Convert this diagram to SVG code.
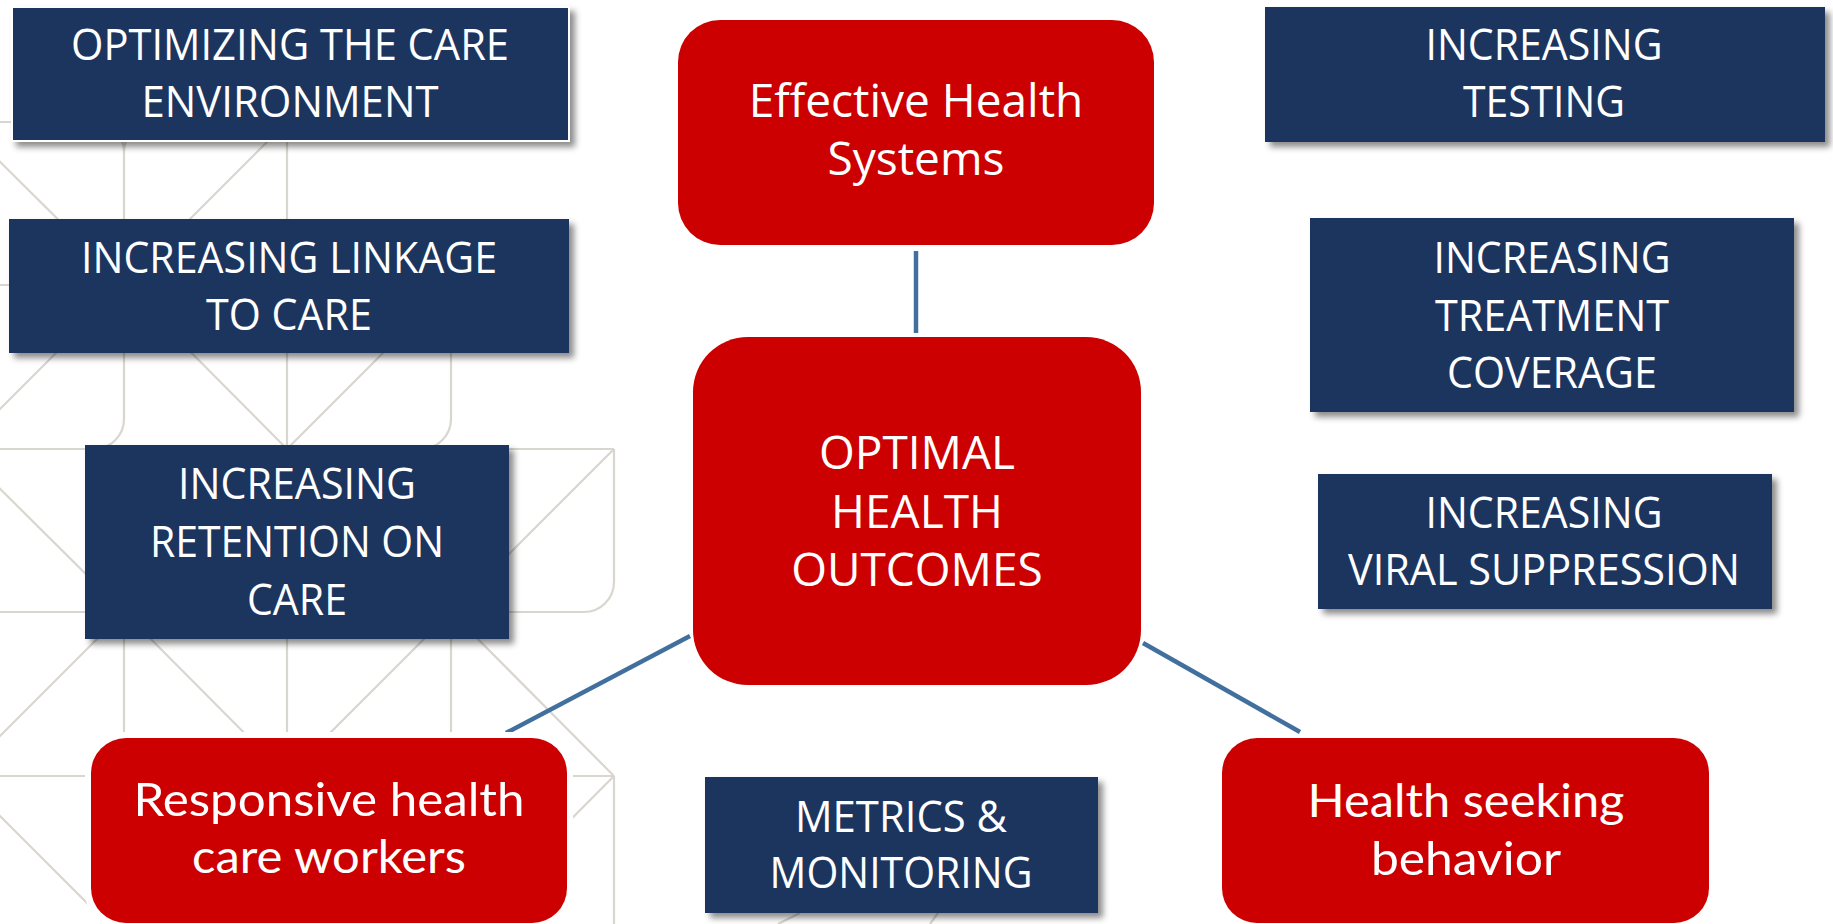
<svg xmlns="http://www.w3.org/2000/svg" width="1833" height="924" viewBox="0 0 1833 924">
<defs>
<filter id="sh" x="-10%" y="-10%" width="125%" height="135%">
<feDropShadow dx="5" dy="5" stdDeviation="3" flood-color="#000" flood-opacity="0.45"/>
</filter>
<style>
.bg{fill:none;stroke:#d9d5cf;stroke-width:2.2}
.blue{fill:#1a365e;filter:url(#sh)}
.red{fill:#cc0000}
.halo{fill:#ffffff}
.bt{font-family:"Open Sans","Liberation Sans",sans-serif;font-size:43px;fill:#ffffff;text-anchor:middle}
.rt{font-family:"Open Sans","Liberation Sans",sans-serif;font-size:46px;fill:#ffffff;text-anchor:middle}
.ct{font-family:Lato,"Open Sans","Liberation Sans",sans-serif;font-size:47px;fill:#ffffff;text-anchor:middle}
.conn{stroke:#41709e;stroke-width:4.5;fill:none}
</style>
</defs>
<rect width="1833" height="924" fill="#ffffff"/>
<g id="background" class="bg">
<path d="M0 122 H94 A30 30 0 0 1 124 152 A30 30 0 0 1 154 122 H287"/>
<path d="M124 152 V419 A30 30 0 0 1 94 449"/>
<path d="M124 449 V924"/>
<path d="M287 122 V924"/>
<path d="M451 285 V419 A30 30 0 0 1 421 449"/>
<path d="M451 449 V924"/>
<path d="M614 449 V582 A30 30 0 0 1 584 612"/>
<path d="M614 776 V924"/>
<path d="M0 285 H451 M0 449 H614 M0 612 H584 M0 776 H614"/>
<path d="M-40 122 L124 285 L287 122"/>
<path d="M-40 449 L124 285 L287 449 L451 285"/>
<path d="M-40 449 L124 612"/>
<path d="M451 612 L614 449"/>
<path d="M-40 776 L124 612 L287 776 L451 612 L614 776"/>
<path d="M-40 776 L124 940"/>
<path d="M451 940 L614 776"/>
<path d="M778 924 L800 913 M938 913 L930 924"/>
</g>
<g id="connectors" class="conn">
<path d="M916 251 V333"/>
<path d="M690 636 L506 733"/>
<path d="M1143 643 L1300 732"/>
</g>
<g id="node-optimizing">
<rect class="blue" x="12" y="7" width="557" height="134" stroke="#ffffff" stroke-width="2"/>
<text class="bt" x="290" y="60" textLength="438" lengthAdjust="spacingAndGlyphs">OPTIMIZING THE CARE</text>
<text class="bt" x="290" y="117" textLength="297" lengthAdjust="spacingAndGlyphs">ENVIRONMENT</text>
</g>
<g id="node-linkage">
<rect class="blue" x="9" y="219" width="560" height="134"/>
<text class="bt" x="289" y="273" textLength="416" lengthAdjust="spacingAndGlyphs">INCREASING LINKAGE</text>
<text class="bt" x="289" y="330" textLength="166" lengthAdjust="spacingAndGlyphs">TO CARE</text>
</g>
<g id="node-retention">
<rect class="blue" x="85" y="445" width="424" height="194"/>
<text class="bt" x="297" y="499" textLength="238" lengthAdjust="spacingAndGlyphs">INCREASING</text>
<text class="bt" x="297" y="557" textLength="294" lengthAdjust="spacingAndGlyphs">RETENTION ON</text>
<text class="bt" x="297" y="615" textLength="100" lengthAdjust="spacingAndGlyphs">CARE</text>
</g>
<g id="node-metrics">
<rect class="blue" x="705" y="777" width="393" height="136"/>
<text class="bt" x="901" y="832" textLength="212" lengthAdjust="spacingAndGlyphs">METRICS &amp;</text>
<text class="bt" x="901" y="888" textLength="263" lengthAdjust="spacingAndGlyphs">MONITORING</text>
</g>
<g id="node-testing">
<rect class="blue" x="1265" y="7" width="560" height="135"/>
<text class="bt" x="1544" y="60" textLength="237" lengthAdjust="spacingAndGlyphs">INCREASING</text>
<text class="bt" x="1544" y="117" textLength="162" lengthAdjust="spacingAndGlyphs">TESTING</text>
</g>
<g id="node-treatment">
<rect class="blue" x="1310" y="218" width="484" height="194"/>
<text class="bt" x="1552" y="273" textLength="237" lengthAdjust="spacingAndGlyphs">INCREASING</text>
<text class="bt" x="1552" y="331" textLength="234" lengthAdjust="spacingAndGlyphs">TREATMENT</text>
<text class="bt" x="1552" y="388" textLength="210" lengthAdjust="spacingAndGlyphs">COVERAGE</text>
</g>
<g id="node-viral">
<rect class="blue" x="1318" y="474" width="454" height="135"/>
<text class="bt" x="1544" y="528" textLength="237" lengthAdjust="spacingAndGlyphs">INCREASING</text>
<text class="bt" x="1544" y="585" textLength="392" lengthAdjust="spacingAndGlyphs">VIRAL SUPPRESSION</text>
</g>
<g id="node-effective">
<rect class="red" x="678" y="20" width="476" height="225" rx="42"/>
<text class="rt" x="916" y="117">Effective Health</text>
<text class="rt" x="916" y="175">Systems</text>
</g>
<g id="node-optimal">
<rect class="red" x="693" y="337" width="448" height="348" rx="55"/>
<text class="rt" x="917" y="469">OPTIMAL</text>
<text class="rt" x="917" y="528">HEALTH</text>
<text class="rt" x="917" y="586">OUTCOMES</text>
</g>
<g id="node-responsive">
<rect class="halo" x="85" y="732" width="488" height="200" rx="40"/>
<rect class="red" x="91" y="738" width="476" height="185" rx="35"/>
<text class="ct" x="329" y="816" textLength="391" lengthAdjust="spacingAndGlyphs">Responsive health</text>
<text class="ct" x="329" y="873" textLength="274" lengthAdjust="spacingAndGlyphs">care workers</text>
</g>
<g id="node-seeking">
<rect class="red" x="1222" y="738" width="487" height="185" rx="35"/>
<text class="ct" x="1466" y="817" textLength="317" lengthAdjust="spacingAndGlyphs">Health seeking</text>
<text class="ct" x="1466" y="875" textLength="190" lengthAdjust="spacingAndGlyphs">behavior</text>
</g>
</svg>
